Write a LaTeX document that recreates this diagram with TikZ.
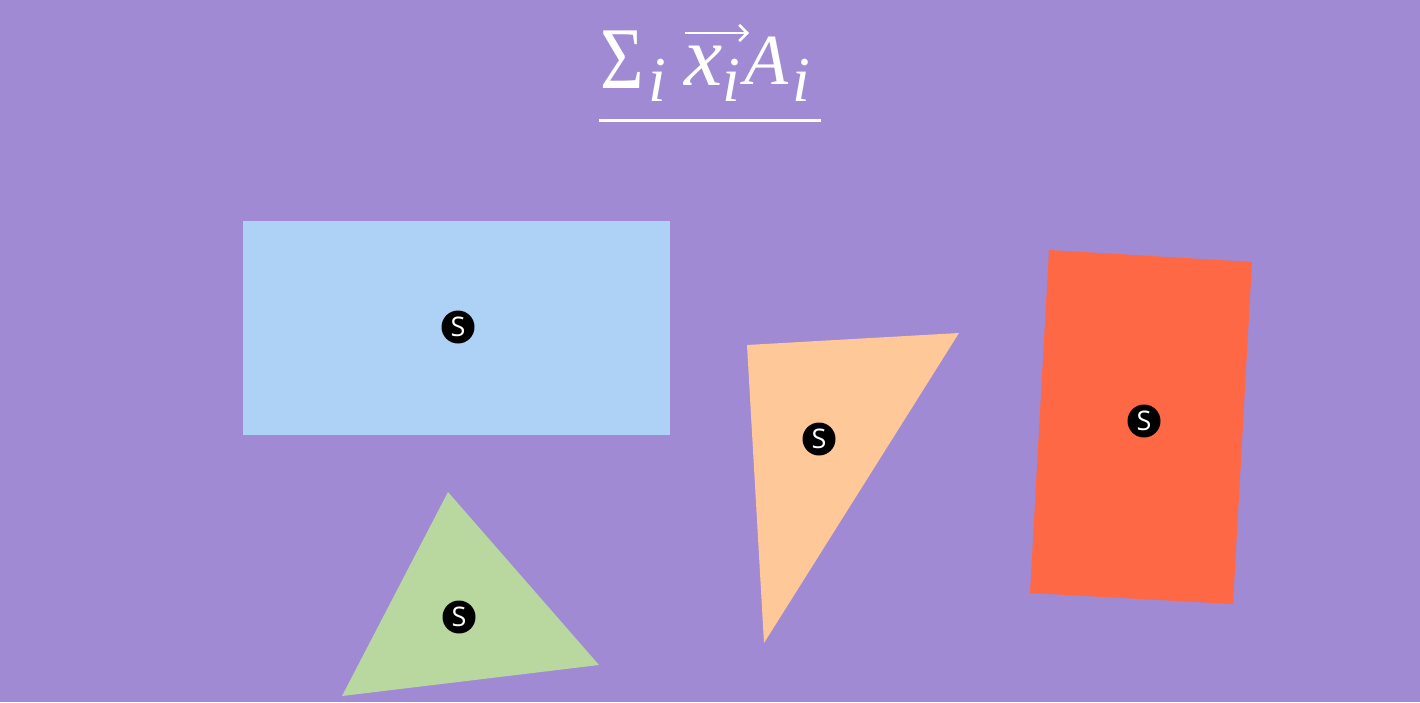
\documentclass[tikz,border=0pt]{standalone}
\usepackage{graphicx}
\usepackage{fontspec}
\usetikzlibrary{arrows.meta}
\setmainfont{Liberation Serif}
\newfontfamily\lblfont{Open Sans}
\definecolor{bgc}{HTML}{A08AD3}
\definecolor{bluec}{HTML}{ADD2F5}
\definecolor{orangec}{HTML}{FFC898}
\definecolor{redc}{HTML}{FF6845}
\definecolor{greenc}{HTML}{B8D8A0}
\begin{document}
\begin{tikzpicture}[x=1pt,y=-1pt,
  sdot/.style={circle,fill=black,minimum size=33pt,inner sep=0pt,text=white},
  ttl/.style={text=white,anchor=base west,inner sep=0pt}]
\useasboundingbox[fill=bgc] (0,0) rectangle (1420,702);
% title
\node[ttl] (sig) at (600,88) {\scalebox{0.85}[1]{\rmfamily\fontsize{88pt}{88pt}\selectfont Σ}};
\node[ttl] (i1) at (648,101) {\rmfamily\itshape\fontsize{64pt}{64pt}\selectfont i};
\node[ttl] (xx) at (684,85) {\rmfamily\itshape\fontsize{86pt}{86pt}\selectfont x};
\node[ttl] (i2) at (722,101) {\rmfamily\itshape\fontsize{64pt}{64pt}\selectfont i};
\node[ttl] (aa) at (744,84) {\rmfamily\itshape\fontsize{72pt}{72pt}\selectfont A};
\node[ttl] (i3) at (792,101) {\rmfamily\itshape\fontsize{64pt}{64pt}\selectfont i};
\coordinate (ar1) at (685,33);
\coordinate (ar2) at (749,33);
\draw[white,line width=2.6pt,-{Straight Barb[length=8pt,width=16pt,line width=2.6pt]}] (ar1) -- (ar2);
\coordinate (ul1) at (599,120);
\coordinate (ul2) at (821,120);
\draw[white,line width=3pt] (ul1) -- (ul2);
% shapes
\fill[bluec] (243,221) rectangle (670,435);
\fill[orangec] (747,345) -- (959,333) -- (764,643) -- cycle;
\fill[redc] (1049,250) -- (1252,262) -- (1233,604) -- (1030,593) -- cycle;
\fill[greenc] (448,492) -- (599,665) -- (342,696) -- cycle;
% S markers
\node[sdot] (s1) at (458,327) {\lblfont\scalebox{2.7}{S}};
\node[sdot] (s2) at (819,439) {\lblfont\scalebox{2.7}{S}};
\node[sdot] (s3) at (1144,421) {\lblfont\scalebox{2.7}{S}};
\node[sdot] (s4) at (459,617) {\lblfont\scalebox{2.7}{S}};
\end{tikzpicture}
\end{document}
